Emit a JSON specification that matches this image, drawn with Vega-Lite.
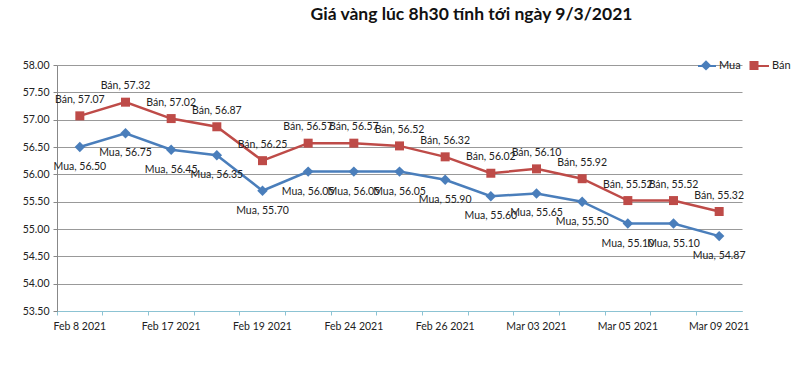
{
  "$schema": "https://vega.github.io/schema/vega-lite/v6.json",
  "autosize": "none",
  "width": 685,
  "height": 246,
  "padding": {"left": 57, "top": 65, "right": 58, "bottom": 59},
  "background": "white",
  "title": {
    "text": "Giá vàng lúc 8h30 tính tới ngày 9/3/2021",
    "font": "Lato",
    "fontSize": 17.5,
    "fontWeight": "bold",
    "color": "#111111",
    "anchor": "middle",
    "dx": 72,
    "offset": 33
  },
  "config": {
    "view": {"stroke": null},
    "font": "Lato"
  },
  "data": {
    "values": [
      {"date": "Feb 8 2021", "series": "Mua", "value": 56.50},
      {"date": "Feb 9 2021", "series": "Mua", "value": 56.75},
      {"date": "Feb 17 2021", "series": "Mua", "value": 56.45},
      {"date": "Feb 18 2021", "series": "Mua", "value": 56.35},
      {"date": "Feb 19 2021", "series": "Mua", "value": 55.70},
      {"date": "Feb 23 2021", "series": "Mua", "value": 56.05},
      {"date": "Feb 24 2021", "series": "Mua", "value": 56.05},
      {"date": "Feb 25 2021", "series": "Mua", "value": 56.05},
      {"date": "Feb 26 2021", "series": "Mua", "value": 55.90},
      {"date": "Mar 02 2021", "series": "Mua", "value": 55.60},
      {"date": "Mar 03 2021", "series": "Mua", "value": 55.65},
      {"date": "Mar 04 2021", "series": "Mua", "value": 55.50},
      {"date": "Mar 05 2021", "series": "Mua", "value": 55.10},
      {"date": "Mar 08 2021", "series": "Mua", "value": 55.10},
      {"date": "Mar 09 2021", "series": "Mua", "value": 54.87},
      {"date": "Feb 8 2021", "series": "Bán", "value": 57.07},
      {"date": "Feb 9 2021", "series": "Bán", "value": 57.32},
      {"date": "Feb 17 2021", "series": "Bán", "value": 57.02},
      {"date": "Feb 18 2021", "series": "Bán", "value": 56.87},
      {"date": "Feb 19 2021", "series": "Bán", "value": 56.25},
      {"date": "Feb 23 2021", "series": "Bán", "value": 56.57},
      {"date": "Feb 24 2021", "series": "Bán", "value": 56.57},
      {"date": "Feb 25 2021", "series": "Bán", "value": 56.52},
      {"date": "Feb 26 2021", "series": "Bán", "value": 56.32},
      {"date": "Mar 02 2021", "series": "Bán", "value": 56.02},
      {"date": "Mar 03 2021", "series": "Bán", "value": 56.10},
      {"date": "Mar 04 2021", "series": "Bán", "value": 55.92},
      {"date": "Mar 05 2021", "series": "Bán", "value": 55.52},
      {"date": "Mar 08 2021", "series": "Bán", "value": 55.52},
      {"date": "Mar 09 2021", "series": "Bán", "value": 55.32}
    ]
  },
  "encoding": {
    "x": {
      "field": "date",
      "type": "ordinal",
      "sort": null,
      "scale": {"type": "band", "paddingInner": 0, "paddingOuter": 0},
      "axis": {
        "title": null,
        "bandPosition": 0,
        "labelAngle": 0,
        "labelAlign": "center",
        "labelExpr": "indexof(['Feb 8 2021','Feb 17 2021','Feb 19 2021','Feb 24 2021','Feb 26 2021','Mar 03 2021','Mar 05 2021','Mar 09 2021'], datum.value) >= 0 ? datum.value : ''",
        "labelFont": "Lato",
        "labelFontSize": 10.5,
        "labelColor": "#222222",
        "labelPadding": 6,
        "labelOverlap": false,
        "domainColor": "#8CC3D3",
        "domainWidth": 1,
        "tickColor": "#8CC3D3",
        "tickSize": 4,
        "grid": false
      }
    },
    "y": {
      "field": "value",
      "type": "quantitative",
      "scale": {"domain": [53.5, 58.0], "nice": false, "zero": false},
      "axis": {
        "title": null,
        "values": [53.5, 54.0, 54.5, 55.0, 55.5, 56.0, 56.5, 57.0, 57.5, 58.0],
        "format": ".2f",
        "labelFont": "Lato",
        "labelFontSize": 10.5,
        "labelColor": "#222222",
        "labelPadding": 4,
        "domainColor": "#888888",
        "tickColor": "#888888",
        "tickSize": 4,
        "gridColor": "#999999",
        "gridWidth": 1
      }
    }
  },
  "layer": [
    {
      "mark": {"type": "line", "strokeWidth": 2.5},
      "encoding": {
        "stroke": {
          "field": "series",
          "type": "nominal",
          "scale": {"domain": ["Mua", "Bán"], "range": ["#4A7EBB", "#BE4B48"]},
          "legend": {
            "title": null,
            "orient": "none",
            "legendX": 640,
            "legendY": -9,
            "direction": "horizontal",
            "symbolType": "stroke",
            "symbolSize": 324,
            "symbolStrokeWidth": 2,
            "labelFont": "Lato",
            "labelFontSize": 11,
            "labelColor": "#222222",
            "columnPadding": 6,
            "labelOffset": 2
          }
        }
      }
    },
    {
      "mark": {"type": "point", "filled": true, "opacity": 1, "size": 324, "strokeWidth": 0},
      "encoding": {
        "fill": {
          "field": "series",
          "type": "nominal",
          "sort": "descending",
          "scale": {"range": ["#4A7EBB", "#BE4B48"]},
          "legend": {
            "title": null,
            "orient": "none",
            "legendX": 640,
            "legendY": -9,
            "direction": "horizontal",
            "symbolSize": 324,
            "symbolStrokeWidth": 0,
            "symbolOpacity": 1,
            "labelFont": "Lato",
            "labelFontSize": 11,
            "labelOpacity": 0,
            "columnPadding": 6,
            "labelOffset": 2
          }
        },
        "shape": {
          "field": "series",
          "type": "nominal",
          "sort": "descending",
          "scale": {"range": ["M0,-0.58L0.58,0L0,0.58L-0.58,0Z", "M-0.5,-0.5H0.5V0.5H-0.5Z"]},
          "legend": {
            "title": null,
            "orient": "none",
            "legendX": 640,
            "legendY": -9,
            "direction": "horizontal",
            "symbolSize": 324,
            "symbolStrokeWidth": 0,
            "symbolOpacity": 1,
            "labelFont": "Lato",
            "labelFontSize": 11,
            "labelOpacity": 0,
            "columnPadding": 6,
            "labelOffset": 2
          }
        }
      }
    },
    {
      "transform": [{"filter": "datum.series === 'Bán'"}],
      "mark": {
        "type": "text",
        "dy": -16,
        "font": "Lato",
        "fontSize": 10.5,
        "color": "#222222",
        "text": {"expr": "datum.series + ', ' + format(datum.value, '.2f')"}
      },
      "encoding": {}
    },
    {
      "transform": [{"filter": "datum.series === 'Mua'"}],
      "mark": {
        "type": "text",
        "dy": 20,
        "font": "Lato",
        "fontSize": 10.5,
        "color": "#222222",
        "text": {"expr": "datum.series + ', ' + format(datum.value, '.2f')"}
      },
      "encoding": {}
    }
  ]
}
